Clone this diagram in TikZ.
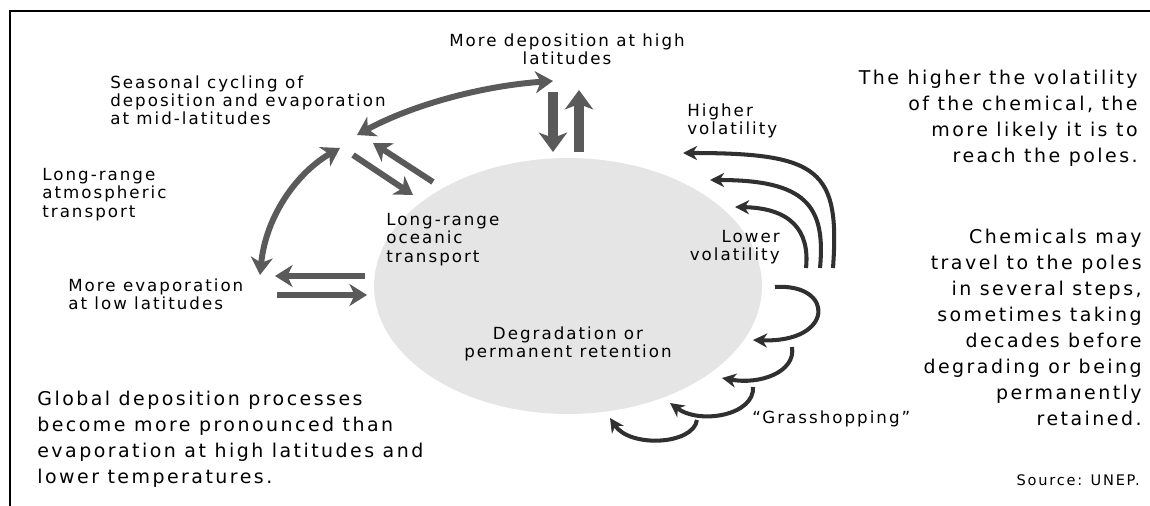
\documentclass[tikz,border=0pt]{standalone}
\usepackage{fontspec}
\setmainfont{DejaVu Sans}
\newfontfamily\tagfont[LetterSpace=12]{DejaVu Sans}
\newfontfamily\notefont[LetterSpace=13]{DejaVu Sans}
\usetikzlibrary{arrows.meta, shapes.geometric}
\definecolor{fluxgrey}{HTML}{5A5A5A}
\definecolor{hopdark}{HTML}{303030}
\definecolor{globegrey}{HTML}{E5E5E5}

\begin{document}
\begin{tikzpicture}[
		x=0.02cm, y=-0.02cm,
		globe/.style={
			ellipse, fill=globegrey, inner sep=0pt,
			minimum width=7.76cm, minimum height=5.12cm
		},
		flux/.style={
			line width=3.4pt, draw=fluxgrey,
			-{Stealth[length=10pt, width=12.5pt, inset=3pt]}
		},
		twoway/.style={
			flux, {Stealth[length=10pt, width=12.5pt, inset=3pt]}-{Stealth[length=10pt, width=12.5pt, inset=3pt]}
		},
		vflux/.style={
			line width=5.4pt, draw=fluxgrey,
			-{Stealth[length=11pt, width=16pt, inset=3pt]}
		},
		hop/.style={
			line width=2.3pt, draw=hopdark,
			-{Stealth[length=8pt, width=8pt, inset=2.5pt]}
		},
		tag/.style={font=\tagfont\fontsize{9.5}{10.5}\selectfont, inner sep=0pt, align=left},
		note/.style={font=\notefont\fontsize{10.8}{14.8}\selectfont, inner sep=0pt}
		]
		
		\useasboundingbox (0,0) rectangle (1150,506);
		\draw[line width=1.6pt] (10,506) -- (10,11) -- (1150,11);
		
		\node[globe] (globe) at (568,286) {};
		
		% end points of the grey transport arrows
		\coordinate (mid) at (357,135);
		\coordinate (high) at (553,81);
		\coordinate (midlow) at (340,148);
		\coordinate (low) at (260,275);
		
		\draw[twoway] (mid) .. controls (410,106) and (480,86) .. (high);
		\draw[twoway] (midlow) .. controls (298,172) and (266,215) .. (low);
		
		\coordinate (dn-a) at (553,92);  \coordinate (dn-b) at (553,152);
		\coordinate (up-a) at (579,152); \coordinate (up-b) at (579,90);
		\draw[vflux] (dn-a) -- (dn-b);
		\draw[vflux] (up-a) -- (up-b);
		
		\coordinate (sea-a) at (353,155); \coordinate (sea-b) at (413,195);
		\coordinate (air-a) at (433,182); \coordinate (air-b) at (373,143);
		\draw[flux] (sea-a) -- (sea-b);
		\draw[flux] (air-a) -- (air-b);
		
		\coordinate (out-a) at (365,276); \coordinate (out-b) at (275,276);
		\coordinate (in-a) at (277,295);  \coordinate (in-b) at (367,295);
		\draw[flux] (out-a) -- (out-b);
		\draw[flux] (in-a) -- (in-b);
		
		% volatility arcs
		\coordinate (v1) at (833,268); \coordinate (w1) at (683,153);
		\coordinate (v2) at (820,268); \coordinate (w2) at (710,180);
		\coordinate (v3) at (806,268); \coordinate (w3) at (735,207);
		\draw[hop] (v1) .. controls (840,170) and (820,153) .. (w1);
		\draw[hop] (v2) .. controls (826,205) and (805,180) .. (w2);
		\draw[hop] (v3) .. controls (810,230) and (790,208) .. (w3);
		
		% grasshopping
		\coordinate (g1) at (775,287); \coordinate (g2) at (753,340);
		\coordinate (g3) at (792,347); \coordinate (g4) at (722,378);
		\coordinate (g5) at (753,387); \coordinate (g6) at (670,403);
		\coordinate (g7) at (697,420); \coordinate (g8) at (610,418);
		\draw[hop] (g1) .. controls (835,283) and (835,343) .. (g2);
		\draw[hop] (g3) .. controls (796,372) and (760,385) .. (g4);
		\draw[hop] (g5) .. controls (755,415) and (700,425) .. (g6);
		\draw[hop] (g7) .. controls (693,445) and (630,448) .. (g8);
		
		\node[tag, align=center, anchor=north] (highdep) at (567,33)
		{More deposition at high\\latitudes};
		\node[tag, anchor=north west] (seasonal) at (110,75)
		{Seasonal cycling of\\deposition and evaporation\\at mid-latitudes};
		\node[tag, anchor=north west] (atmos) at (42,168)
		{Long-range\\atmospheric\\transport};
		\node[tag, anchor=north west] (lowevap) at (68,278)
		{More evaporation\\at low latitudes};
		\node[tag, anchor=north west] (ocean) at (386,213)
		{Long-range\\oceanic\\transport};
		\node[tag, anchor=north west] (highvol) at (687,103)
		{Higher\\volatility};
		\node[tag, align=right, anchor=north east] (lowvol) at (780,230)
		{Lower\\volatility};
		\node[tag, align=center, anchor=north] (degrade) at (568,326)
		{Degradation or\\permanent retention};
		\node[tag, anchor=north west] (hopping) at (752,410)
		{“Grasshopping”};
		
		\node[note, align=right, anchor=north east] (volnote) at (1138,70)
		{The higher the volatility\\of the chemical, the\\more likely it is to\\reach the poles.};
		\node[note, align=right, anchor=north east] (stepnote) at (1142,229)
		{Chemicals may\\travel to the poles\\in several steps,\\sometimes taking\\decades before\\degrading or being\\permanently\\retained.};
		\node[note, align=left, anchor=north west] (globalnote) at (37,391)
		{Global deposition processes\\become more pronounced than\\evaporation at high latitudes and\\lower temperatures.};
		\node[inner sep=0pt, anchor=north east, font=\tagfont\fontsize{8.3}{9}\selectfont] (source) at (1140,474)
		{Source: UNEP.};
		
	\end{tikzpicture}
\end{document}
